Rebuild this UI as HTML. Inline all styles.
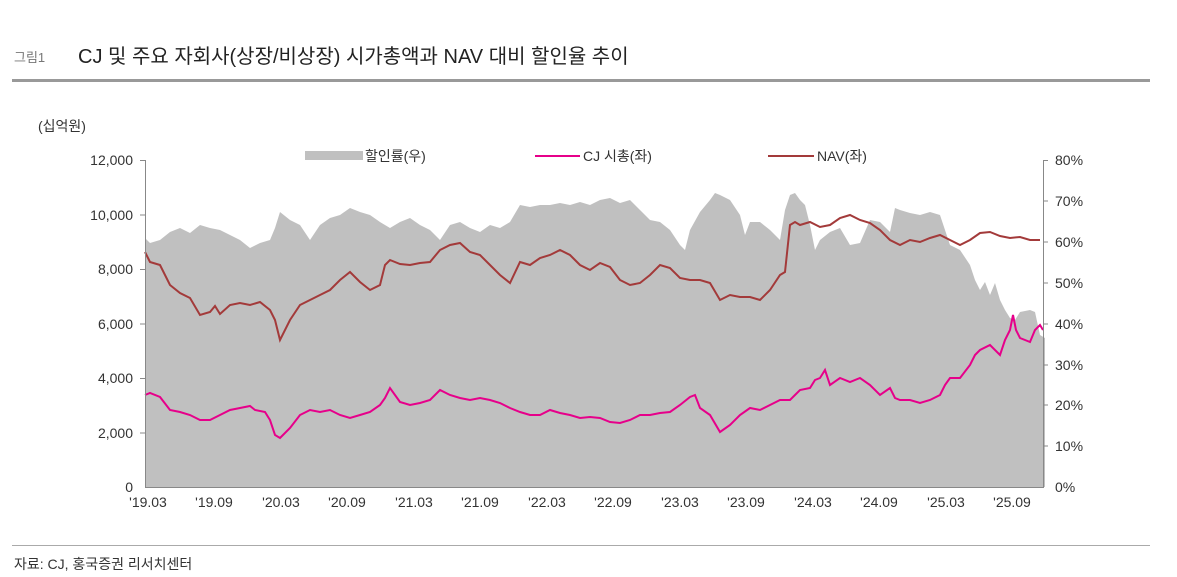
<!DOCTYPE html>
<html><head><meta charset="utf-8"><style>
body{margin:0;background:#fff;width:1177px;height:577px;overflow:hidden;font-family:"Liberation Sans","Noto Sans CJK KR",sans-serif;}
</style></head><body>
<svg width="1177" height="577" xmlns="http://www.w3.org/2000/svg" style="position:absolute;left:0;top:0;font-family:'Liberation Sans','Noto Sans CJK KR',sans-serif">
<text x="14" y="62" font-size="13" fill="#777">그림1</text>
<text x="78" y="63" font-size="20" fill="#222">CJ 및 주요 자회사(상장/비상장) 시가총액과 NAV 대비 할인율 추이</text>
<rect x="12" y="79" width="1138" height="3" fill="#999"/>
<text x="38" y="131" font-size="14" fill="#333">(십억원)</text>
<polygon fill="#c0c0c0" points="145,487 145,238 150,243 160,240 170,232 180,228 190,233 200,225 210,228 220,230 230,235 240,240 250,248 260,243 270,240 275,228 280,212 290,220 300,225 310,240 320,225 330,218 340,215 350,208 360,212 370,215 380,222 390,228 400,222 410,218 420,225 430,230 440,240 450,225 460,222 470,228 480,232 490,225 500,228 510,222 520,205 530,207 540,205 550,205 560,203 570,205 580,202 590,205 600,200 610,198 620,203 630,200 640,210 650,220 660,222 670,230 680,245 685,250 690,230 700,212 710,200 715,193 720,195 730,200 740,215 745,235 750,222 760,222 770,230 780,240 785,210 790,195 795,193 800,200 805,205 810,225 815,250 820,240 830,232 840,228 850,245 860,243 870,220 880,222 890,232 895,208 900,210 910,213 920,215 930,212 940,215 945,230 950,245 960,250 970,265 975,280 980,290 985,282 990,295 995,283 1000,300 1005,310 1010,318 1015,320 1020,312 1030,310 1035,312 1040,335 1045,338 1045,487"/>
<polyline fill="none" stroke="#a33a3a" stroke-width="2" points="145,252 150,262 160,265 170,285 180,293 190,298 200,315 210,312 215,306 220,314 230,305 240,303 250,305 260,302 270,310 275,320 280,340 290,320 300,305 310,300 320,295 330,290 340,280 350,272 360,282 370,290 380,285 385,265 390,260 400,264 410,265 420,263 430,262 440,250 450,245 460,243 470,252 480,255 490,265 500,275 510,283 520,262 530,265 540,258 550,255 560,250 570,255 580,265 590,270 600,263 610,267 620,280 630,285 640,283 650,275 660,265 670,268 680,278 690,280 700,280 710,283 720,300 730,295 740,297 750,297 760,300 770,290 780,275 785,272 790,225 795,222 800,225 810,222 820,227 830,225 840,218 850,215 860,220 870,223 880,230 890,240 900,245 910,240 920,242 930,238 940,235 950,240 960,245 970,240 980,233 990,232 1000,236 1010,238 1020,237 1030,240 1040,240"/>
<polyline fill="none" stroke="#e6008a" stroke-width="2" points="145,395 150,393 160,397 170,410 180,412 190,415 200,420 210,420 220,415 230,410 240,408 250,406 255,410 265,412 270,420 275,435 280,438 290,428 300,415 310,410 320,412 330,410 340,415 350,418 360,415 370,412 380,405 385,398 390,388 400,402 410,405 420,403 430,400 440,390 450,395 460,398 470,400 480,398 490,400 500,403 510,408 520,412 530,415 540,415 550,410 560,413 570,415 580,418 590,417 600,418 610,422 620,423 630,420 640,415 650,415 660,413 670,412 680,405 690,397 695,395 700,408 710,415 720,432 730,425 740,415 750,408 760,410 770,405 780,400 790,400 795,395 800,390 810,388 815,380 820,378 825,370 830,385 840,378 850,382 860,378 870,385 880,395 890,388 895,398 900,400 910,400 920,403 930,400 940,395 945,385 950,378 960,378 970,365 975,355 980,350 990,345 1000,355 1005,340 1010,330 1013,315 1016,330 1020,338 1030,342 1035,330 1040,325 1043,330"/>
<g stroke="#888" stroke-width="1">
<line x1="145.5" y1="160" x2="145.5" y2="487"/>
<line x1="1043.5" y1="160" x2="1043.5" y2="487"/>
<line x1="145" y1="487.5" x2="1044" y2="487.5"/>
<line x1="140" y1="160.5" x2="145" y2="160.5"/><line x1="140" y1="215" x2="145" y2="215"/><line x1="140" y1="269.5" x2="145" y2="269.5"/><line x1="140" y1="324" x2="145" y2="324"/><line x1="140" y1="378.5" x2="145" y2="378.5"/><line x1="140" y1="433" x2="145" y2="433"/>
<line x1="1043" y1="160.5" x2="1048" y2="160.5"/><line x1="1043" y1="201" x2="1048" y2="201"/><line x1="1043" y1="242" x2="1048" y2="242"/><line x1="1043" y1="283" x2="1048" y2="283"/><line x1="1043" y1="324" x2="1048" y2="324"/><line x1="1043" y1="365" x2="1048" y2="365"/><line x1="1043" y1="405" x2="1048" y2="405"/><line x1="1043" y1="446" x2="1048" y2="446"/>
</g>
<g font-size="14" fill="#333" text-anchor="end">
<text x="133" y="165">12,000</text><text x="133" y="220">10,000</text><text x="133" y="274">8,000</text><text x="133" y="329">6,000</text><text x="133" y="383">4,000</text><text x="133" y="438">2,000</text><text x="133" y="492">0</text>
</g>
<g font-size="14" fill="#333">
<text x="1055" y="165">80%</text><text x="1055" y="206">70%</text><text x="1055" y="247">60%</text><text x="1055" y="288">50%</text><text x="1055" y="329">40%</text><text x="1055" y="370">30%</text><text x="1055" y="410">20%</text><text x="1055" y="451">10%</text><text x="1055" y="492">0%</text>
</g>
<g font-size="14" fill="#333" text-anchor="middle">
<text x="148" y="507">'19.03</text><text x="214" y="507">'19.09</text><text x="281" y="507">'20.03</text><text x="347" y="507">'20.09</text><text x="414" y="507">'21.03</text><text x="480" y="507">'21.09</text><text x="547" y="507">'22.03</text><text x="613" y="507">'22.09</text><text x="680" y="507">'23.03</text><text x="746" y="507">'23.09</text><text x="813" y="507">'24.03</text><text x="879" y="507">'24.09</text><text x="946" y="507">'25.03</text><text x="1012" y="507">'25.09</text>
</g>
<rect x="305" y="151" width="58" height="9" fill="#c0c0c0"/>
<text x="365" y="161" font-size="14" fill="#333">할인률(우)</text>
<line x1="535" y1="156" x2="580" y2="156" stroke="#e6008a" stroke-width="2"/>
<text x="583" y="161" font-size="14" fill="#333">CJ 시총(좌)</text>
<line x1="768" y1="156" x2="814" y2="156" stroke="#a33a3a" stroke-width="2"/>
<text x="817" y="161" font-size="14" fill="#333">NAV(좌)</text>
<rect x="12" y="545" width="1138" height="1" fill="#aaa"/>
<text x="14" y="569" font-size="14" fill="#333">자료: CJ, 홍국증권 리서치센터</text>
</svg>
</body></html>
